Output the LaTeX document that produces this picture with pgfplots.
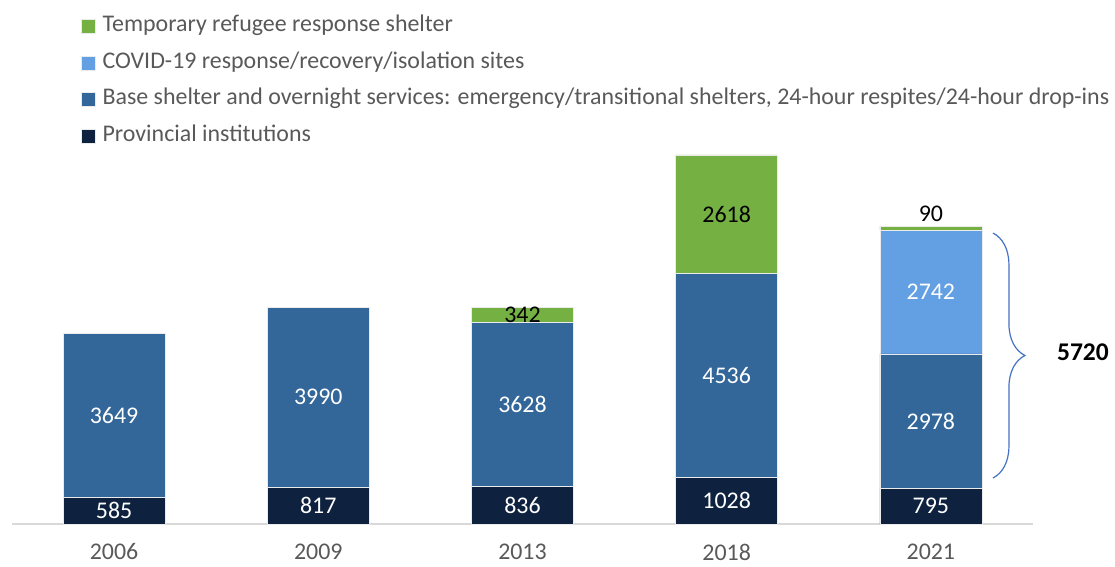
\documentclass[border=0pt]{standalone}
\usepackage{fontspec}
\setmainfont{Carlito}
\usepackage{pgfplots}
\pgfplotsset{compat=1.18}
\usepackage{pgfplotstable}
\usetikzlibrary{decorations.pathreplacing}
\definecolor{cgreen}{HTML}{75B043}
\definecolor{clight}{HTML}{629FE3}
\definecolor{cblue}{HTML}{336699}
\definecolor{cnavy}{HTML}{0E2240}
\definecolor{ctext}{HTML}{595959}
\definecolor{caxis}{HTML}{D9D9D9}
\definecolor{cbrace}{HTML}{4472C4}
\newcommand{\lbl}{\fontsize{23.9bp}{28bp}\selectfont}

\pgfplotstableread{
x prov base covid temp
0 585 3649 0 0
1 817 3990 0 0
2 836 3628 0 342
3 1028 4536 0 2618
4 795 2978 2742 90
}\data

\pgfplotstableread{
x lo v
0 0 585
0 585 3649
1 0 817
1 817 3990
2 0 836
2 836 3628
3 0 1028
3 1028 4536
4 0 795
4 795 2978
4 3773 2742
}\whitelabels

\pgfplotstableread{
x lo v
2 4464 342
3 5564 2618
}\blacklabels

\pgfplotstableread{
x lo v
4 6515 90
}\toplabels

\pgfplotsset{base/.style={
  at={(12bp,43bp)}, anchor=south west,
  scale only axis, width=1021bp, height=369bp,
  xmin=-0.5, xmax=4.5, ymin=0, ymax=8182, clip=false}}

\begin{document}
\begin{tikzpicture}
\path[use as bounding box] (0,0) rectangle (1115bp,567bp);
\begin{axis}[base,
  ybar stacked, bar width=102bp,
  axis x line*=bottom, axis y line=none,
  x axis line style={-, draw=caxis, line width=2bp},
  xtick={0,1,2,3,4}, xticklabels={2006,2009,2013,2018,2021},
  major tick length=0pt,
  xticklabel style={font=\lbl, text=ctext, yshift=-17.5bp, inner ysep=2bp},
  every axis plot/.append style={draw=white!92!black, line width=0.6bp},
  reverse legend,
  legend image code/.code={\fill[#1] (0bp,-7bp) rectangle (14bp,7bp);},
  legend style={at={(0.0676,1.3767)}, anchor=north west, draw=none, fill=none,
    inner sep=0pt, outer sep=0pt, font=\lbl, text=ctext,
    row sep=15.5bp, column sep=7bp,
    nodes={text height=16bp, text depth=5bp, inner sep=0bp}},
  legend cell align=left,
]
\addplot[fill=cnavy] table[x=x, y=prov]{\data};
\addplot[fill=cblue] table[x=x, y=base]{\data};
\addplot[fill=clight] table[x=x, y=covid]{\data};
\addplot[fill=cgreen] table[x=x, y=temp]{\data};
\legend{Provincial institutions,
  {Base shelter and overnight services: emergency/transitional shelters, 24-hour respites/24-hour drop-ins},
  COVID-19 response/recovery/isolation sites,
  Temporary refugee response shelter}
\draw[cbrace, line width=1.2bp, decorate, decoration={brace, amplitude=32bp}]
  (axis cs:4.304,6452) -- (axis cs:4.304,1020);
\node[font=\fontsize{25.5bp}{30bp}\selectfont\bfseries, text=black] at (axis cs:4.745,3814) {5720};
\end{axis}
\begin{axis}[base, hide axis]
\addplot[only marks, mark=none, nodes near coords, point meta=explicit symbolic,
  every node near coord/.append style={anchor=center, text=white, font=\lbl}]
  table[x=x, y expr=\thisrow{lo}+0.5*\thisrow{v}, meta=v]{\whitelabels};
\addplot[only marks, mark=none, nodes near coords, point meta=explicit symbolic,
  every node near coord/.append style={anchor=center, text=black, font=\lbl}]
  table[x=x, y expr=\thisrow{lo}+0.5*\thisrow{v}, meta=v]{\blacklabels};
\addplot[only marks, mark=none, nodes near coords, point meta=explicit symbolic,
  every node near coord/.append style={anchor=south, text=black, font=\lbl, yshift=1bp}]
  table[x=x, y expr=\thisrow{lo}+\thisrow{v}, meta=v]{\toplabels};
\end{axis}
\end{tikzpicture}
\end{document}
